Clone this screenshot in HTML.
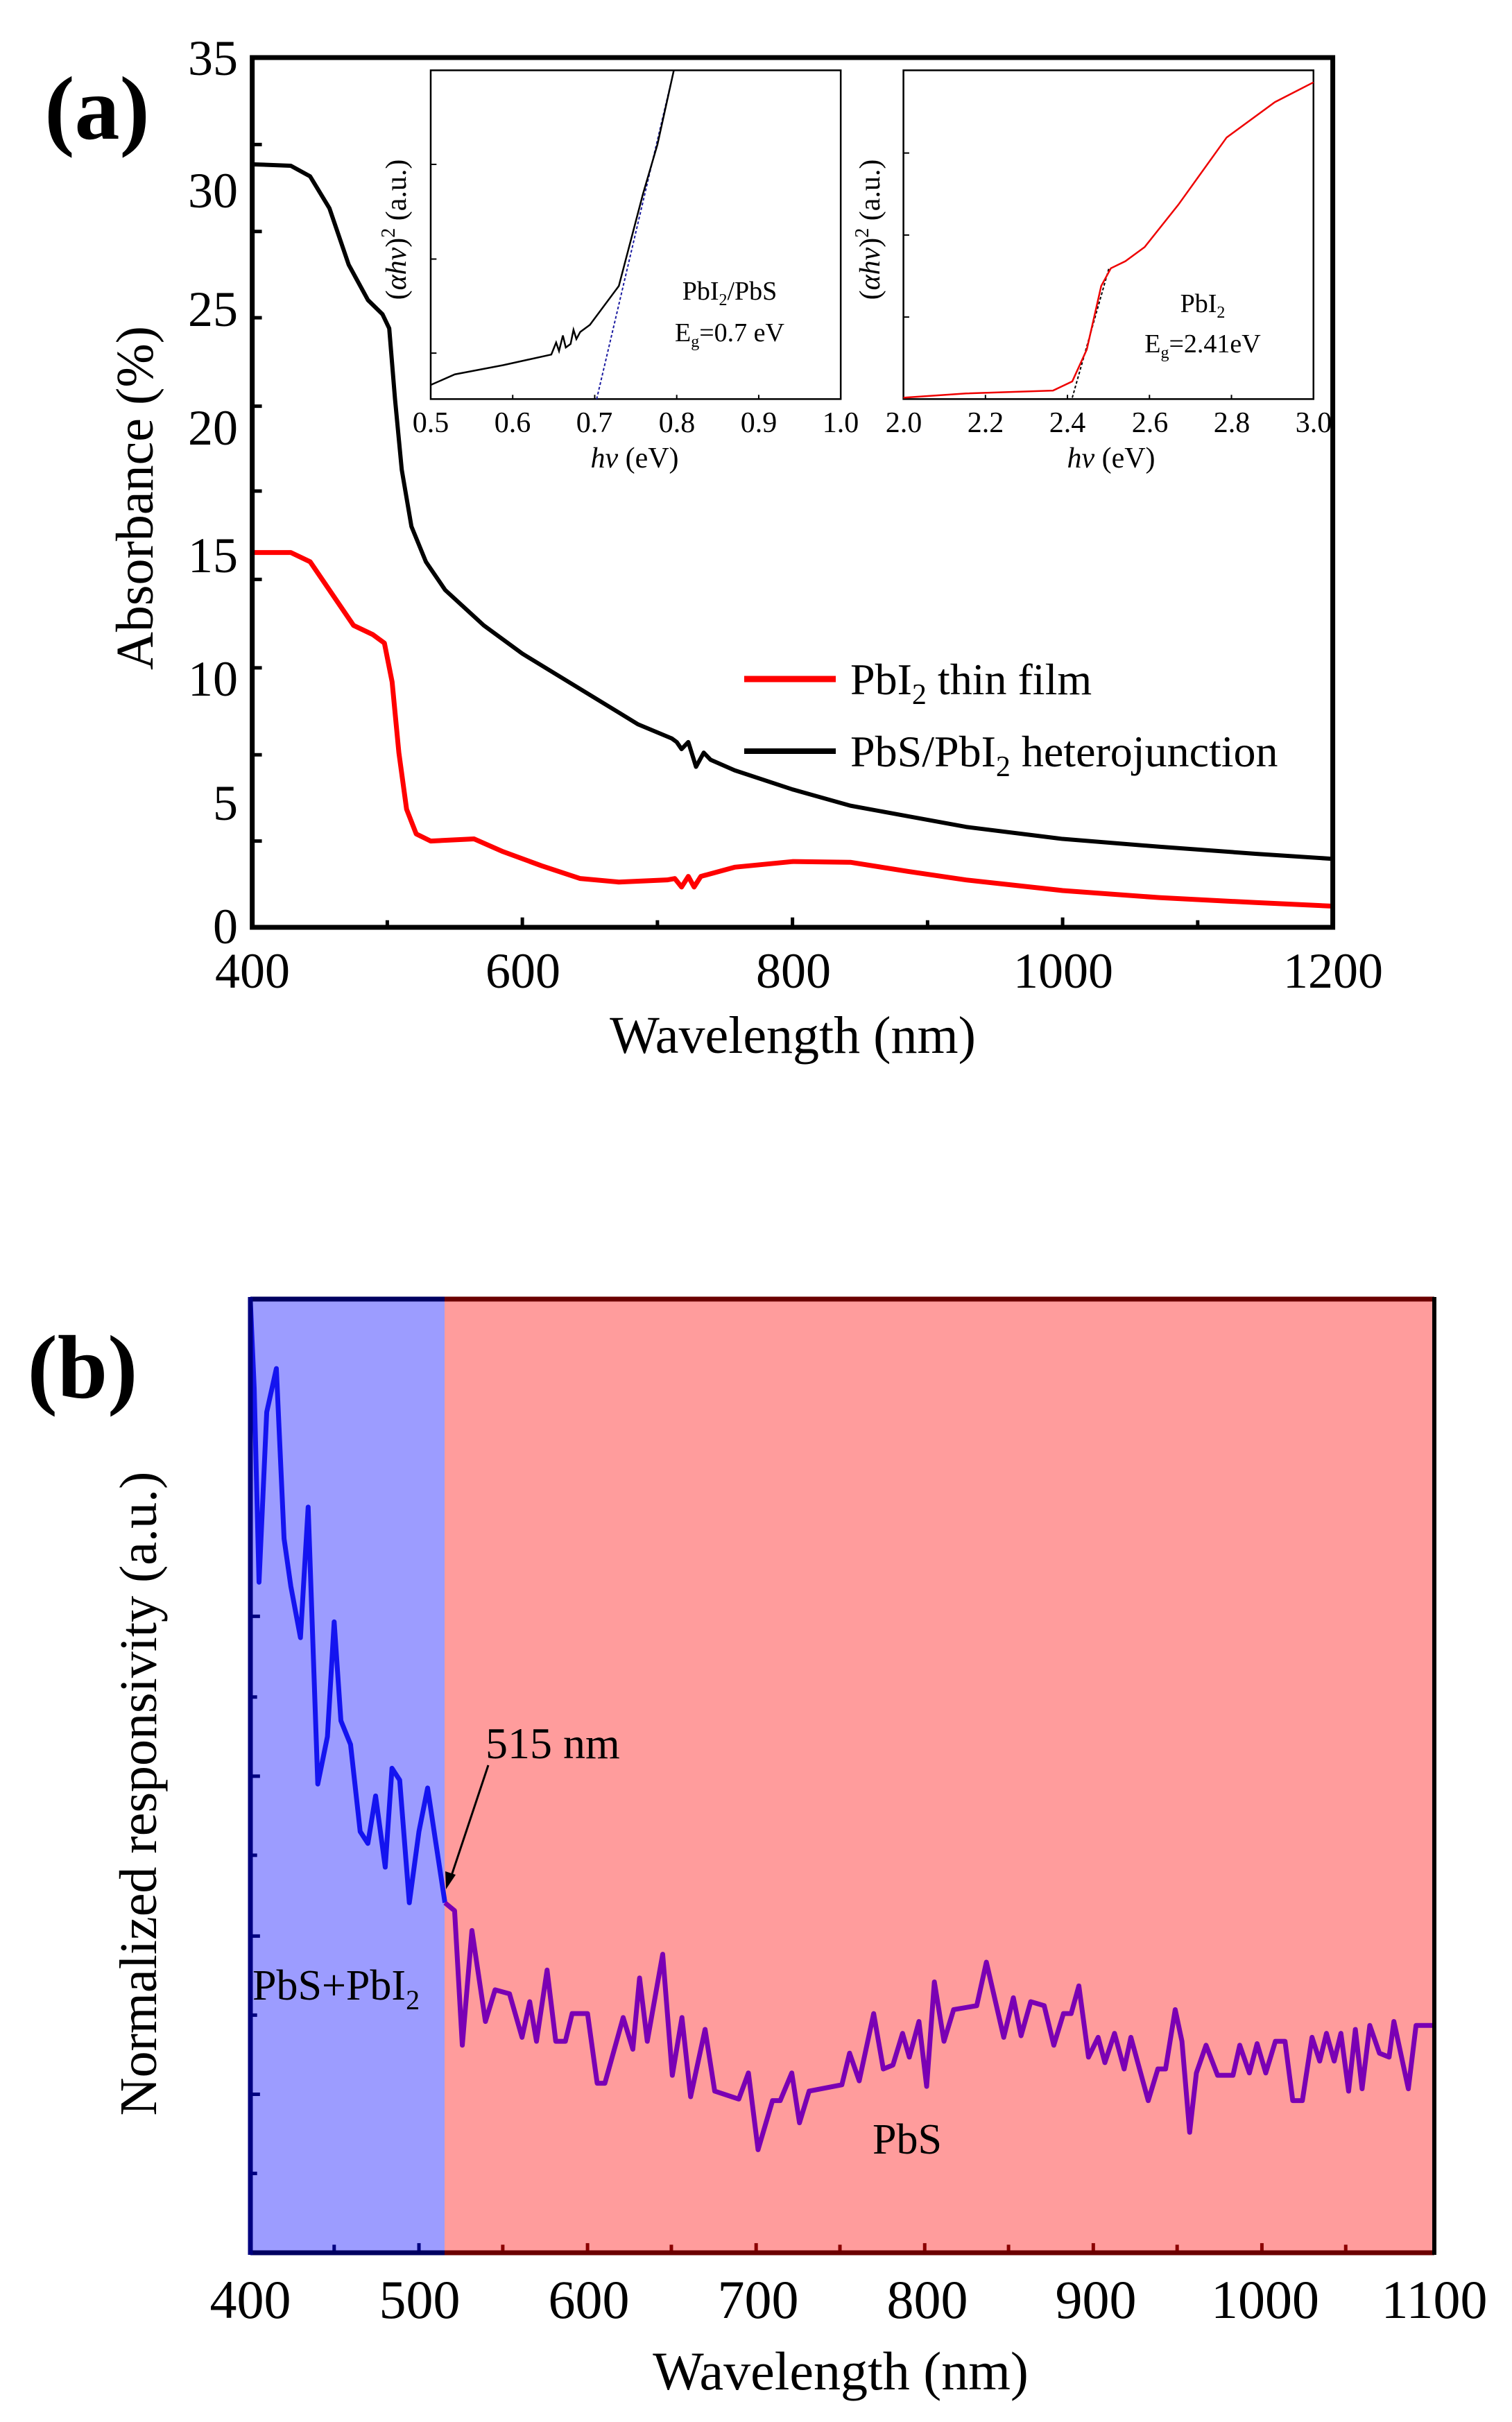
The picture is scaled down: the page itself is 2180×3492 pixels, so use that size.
<!DOCTYPE html>
<html><head><meta charset="utf-8"><style>
html,body{margin:0;padding:0;background:#fff;}
svg{display:block;}
text{font-family:"Liberation Serif",serif;fill:#000;}
</style></head><body>
<svg width="2180" height="3492" viewBox="0 0 2180 3492" xmlns="http://www.w3.org/2000/svg">
<!-- ===== Panel (a) ===== -->
<g transform="matrix(1.391,0,0,1.0195,2,4.5)" fill="none">
  <g stroke="#000" stroke-width="5">
    <path vector-effect="non-scaling-stroke" d="M260 200h10M260 323h10M260 445h10M260 570h10M260 690h10M260 815h10M260 940h10M260 1063h10M260 1185h10"/>
    <path vector-effect="non-scaling-stroke" d="M400 1307v-10M540 1307v-14M680 1307v-10M820 1307v-14M960 1307v-10M1100 1307v-14M1240 1307v-10"/>
  </g>
  <path vector-effect="non-scaling-stroke" stroke="#000" stroke-width="6" stroke-linejoin="round" d="M262 228L300 230L320 245L340 290L360 370L380 420L395 440L402 460L408 560L415 660L425 740L440 790L460 830L500 880L540 920L600 970L660 1020L695 1040L700 1045L705 1055L712 1045L720 1080L728 1060L735 1070L760 1085L820 1112L880 1135L940 1150L1000 1165L1100 1182L1200 1193L1300 1203L1378 1210"/>
  <path vector-effect="non-scaling-stroke" stroke="#f00" stroke-width="7" stroke-linejoin="round" d="M262 777L300 777L320 790L345 840L365 880L385 893L397 905L405 960L412 1060L420 1140L430 1175L445 1185L490 1182L520 1200L560 1220L600 1238L640 1243L690 1240L698 1238L705 1250L712 1235L718 1250L725 1235L760 1222L820 1214L880 1215L940 1228L1000 1240L1100 1255L1200 1265L1300 1272L1378 1277"/>
  <rect vector-effect="non-scaling-stroke" x="260" y="77" width="1120" height="1230" stroke="#000" stroke-width="7"/>
  <rect x="445" y="95" width="425" height="465" fill="#fff" stroke="#000" stroke-width="2.5" vector-effect="non-scaling-stroke"/>
  <path vector-effect="non-scaling-stroke" stroke="#000" stroke-width="2" d="M445 228h6M445 362h6M445 495h6M530 560v-6M615 560v-6M700 560v-6M785 560v-6"/>
  <path vector-effect="non-scaling-stroke" stroke="#1a1aa0" stroke-width="2" stroke-dasharray="4 3" d="M617 560L697 95"/>
  <path vector-effect="non-scaling-stroke" stroke="#000" stroke-width="2.5" d="M445 540L470 525L520 512L570 497L575 480L578 492L582 470L585 487L590 482L593 462L596 475L600 465L610 455L640 400L665 270L680 200L697 95"/>
  <rect x="935" y="95" width="425" height="465" fill="#fff" stroke="#000" stroke-width="2.5" vector-effect="non-scaling-stroke"/>
  <path vector-effect="non-scaling-stroke" stroke="#000" stroke-width="2" d="M935 212h6M935 328h6M935 444h6M1020 560v-6M1105 560v-6M1190 560v-6M1275 560v-6"/>
  <path vector-effect="non-scaling-stroke" stroke="#000" stroke-width="2" stroke-dasharray="4 3" d="M1110 558L1148 375"/>
  <path vector-effect="non-scaling-stroke" stroke="#e00" stroke-width="2.5" d="M935 558L1000 552L1090 548L1110 535L1125 490L1140 400L1150 375L1165 365L1185 345L1220 285L1270 190L1320 140L1360 112"/>
</g>
<text x="140" y="200" font-size="130" font-weight="bold" text-anchor="middle">(a)</text>
<g font-size="72" text-anchor="end">
<text x="343" y="108">35</text><text x="343" y="299">30</text><text x="343" y="470">25</text><text x="343" y="641">20</text><text x="343" y="825">15</text><text x="343" y="1003">10</text><text x="343" y="1182">5</text><text x="343" y="1360">0</text>
</g>
<g font-size="72" text-anchor="middle">
<text x="364" y="1424">400</text><text x="754" y="1424">600</text><text x="1144" y="1424">800</text><text x="1533" y="1424">1000</text><text x="1922" y="1424">1200</text>
</g>
<text x="1143" y="1518" font-size="76" text-anchor="middle">Wavelength (nm)</text>
<text transform="translate(220,718) rotate(-90)" font-size="76" text-anchor="middle">Absorbance (%)</text>
<path d="M1073 979H1205" stroke="#f00" stroke-width="9"/>
<path d="M1073 1083H1205" stroke="#000" stroke-width="8"/>
<text x="1226" y="1001" font-size="64">PbI<tspan font-size="42" dy="14">2</tspan><tspan dy="-14"> thin film</tspan></text>
<text x="1226" y="1105" font-size="64">PbS/PbI<tspan font-size="42" dy="14">2</tspan><tspan dy="-14"> heterojunction</tspan></text>
<g font-size="42" text-anchor="middle">
<text x="621" y="623">0.5</text><text x="739" y="623">0.6</text><text x="857" y="623">0.7</text><text x="976" y="623">0.8</text><text x="1094" y="623">0.9</text><text x="1212" y="623">1.0</text>
<text x="1303" y="623">2.0</text><text x="1421" y="623">2.2</text><text x="1539" y="623">2.4</text><text x="1658" y="623">2.6</text><text x="1776" y="623">2.8</text><text x="1894" y="623">3.0</text>
<text x="915" y="674"><tspan font-style="italic">hv</tspan> (eV)</text>
<text x="1602" y="674"><tspan font-style="italic">hv</tspan> (eV)</text>
<text transform="translate(585,331) rotate(-90)">(<tspan font-style="italic">αhv</tspan>)<tspan font-size="28" dy="-16">2</tspan><tspan dy="16"> (a.u.)</tspan></text>
<text transform="translate(1268,331) rotate(-90)">(<tspan font-style="italic">αhv</tspan>)<tspan font-size="28" dy="-16">2</tspan><tspan dy="16"> (a.u.)</tspan></text>
</g>
<g font-size="38" text-anchor="middle">
<text x="1052" y="432">PbI<tspan font-size="24" dy="8">2</tspan><tspan dy="-8">/PbS</tspan></text>
<text x="1052" y="492">E<tspan font-size="24" dy="8">g</tspan><tspan dy="-8">=0.7 eV</tspan></text>
<text x="1734" y="450">PbI<tspan font-size="24" dy="8">2</tspan></text>
<text x="1734" y="508">E<tspan font-size="24" dy="8">g</tspan><tspan dy="-8">=2.41eV</tspan></text>
</g>
<!-- ===== Panel (b) ===== -->
<rect x="361" y="1873" width="280" height="1375" fill="#9c9cff"/>
<rect x="641" y="1873" width="1427" height="1375" fill="#ff9c9c"/>
<g transform="matrix(1.389,0,0,1.1411,2.6,1705)" fill="none">
  <path vector-effect="non-scaling-stroke" stroke="#000080" stroke-width="5" d="M258 548h10M258 650h7M258 750h10M258 850h7M258 952h10M258 1052h7M258 1152h10M258 1252h7M345 1352v-10M433 1352v-12"/>
  <path vector-effect="non-scaling-stroke" stroke="#8b0000" stroke-width="5" d="M520 1352v-10M608 1352v-12M695 1352v-10M783 1352v-12M870 1352v-10M958 1352v-12M1045 1352v-10M1133 1352v-12M1220 1352v-10M1308 1352v-12M1395 1352v-10"/>
  <path vector-effect="non-scaling-stroke" stroke="#1414f0" stroke-width="7" stroke-linejoin="round" d="M258 150L262 260L267 505L275 290L285 235L293 450L300 510L310 575L318 410L328 760L338 700L345 555L352 680L362 710L372 820L380 835L388 775L398 865L405 740L413 755L423 910L433 820L442 765L450 830L460 910"/>
  <path vector-effect="non-scaling-stroke" stroke="#7a00b4" stroke-width="7" stroke-linejoin="round" d="M460 910L470 920L478 1090L488 945L502 1060L512 1020L527 1025L540 1080L548 1035L555 1085L566 995L575 1085L585 1085L592 1050L608 1050L618 1138L626 1138L645 1055L655 1095L662 1005L670 1085L686 975L696 1128L706 1055L715 1155L730 1070L740 1148L765 1158L775 1125L785 1222L800 1160L808 1160L820 1125L828 1188L838 1148L872 1140L880 1100L890 1135L905 1050L915 1120L925 1115L935 1075L942 1105L952 1060L960 1142L968 1010L978 1085L988 1045L1012 1040L1022 985L1040 1080L1050 1030L1058 1078L1068 1035L1082 1040L1092 1090L1102 1050L1110 1050L1118 1015L1128 1105L1138 1080L1145 1112L1155 1075L1165 1120L1172 1080L1190 1160L1200 1120L1208 1120L1218 1045L1225 1085L1233 1200L1240 1125L1250 1090L1262 1128L1278 1128L1285 1090L1295 1125L1303 1088L1312 1125L1322 1085L1332 1085L1340 1160L1350 1160L1360 1080L1368 1110L1375 1075L1383 1110L1390 1075L1398 1148L1405 1070L1412 1145L1420 1065L1430 1100L1440 1105L1445 1060L1460 1145L1468 1065L1487 1065"/>
</g>
<path d="M361 1873H641M361 3248H641" stroke="#000060" stroke-width="7"/>
<path d="M361 1870V3251" stroke="#000080" stroke-width="7"/>
<path d="M641 1873H2068M641 3248H2068" stroke="#6b0000" stroke-width="7"/>
<path d="M2068 1870V3251" stroke="#000" stroke-width="6"/>
<path d="M704 2545L649 2710" stroke="#000" stroke-width="3"/>
<path d="M643 2724L642 2698L657 2703Z" fill="#000"/>
<text x="119" y="2015" font-size="130" font-weight="bold" text-anchor="middle">(b)</text>
<text x="700" y="2535" font-size="64">515 nm</text>
<text x="364" y="2883" font-size="62">PbS+PbI<tspan font-size="40" dy="14">2</tspan></text>
<text x="1308" y="3105" font-size="62" text-anchor="middle">PbS</text>
<g font-size="78" text-anchor="middle">
<text x="361" y="3342">400</text><text x="605" y="3342">500</text><text x="849" y="3342">600</text><text x="1093" y="3342">700</text><text x="1337" y="3342">800</text><text x="1580" y="3342">900</text><text x="1824" y="3342">1000</text><text x="2068" y="3342">1100</text>
</g>
<text x="1212" y="3445" font-size="78" text-anchor="middle">Wavelength (nm)</text>
<text transform="translate(225,2586) rotate(-90)" font-size="76" text-anchor="middle">Normalized responsivity (a.u.)</text>
</svg>
</body></html>
